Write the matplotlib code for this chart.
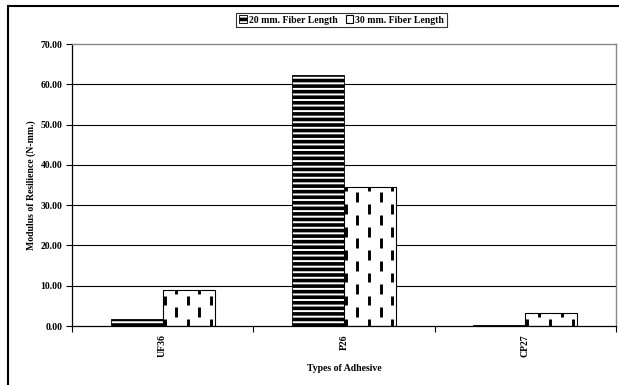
import numpy as np
import matplotlib
matplotlib.use("Agg")
import matplotlib.pyplot as plt
from matplotlib.patches import Rectangle
from matplotlib.collections import LineCollection

plt.rcParams['font.family'] = ['Liberation Serif', 'DejaVu Serif']
plt.rcParams['font.weight'] = 'bold'
plt.rcParams['hatch.linewidth'] = 2.6

adhesives = ['UF36', 'P26', 'CP27']
fiber_20mm = [1.7, 62.3, 0.3]
fiber_30mm = [8.9, 34.6, 3.3]
series_labels = ['20 mm. Fiber Length', '30 mm. Fiber Length']
y_ticks = [0, 10, 20, 30, 40, 50, 60, 70]

fig = plt.figure(figsize=(6.19, 3.85), dpi=100)
ax = fig.add_axes([72 / 619, 1 - 326 / 385, 544 / 619, 282 / 385])

# outer chart border (runs off the right and bottom edges)
fig.patches.append(Rectangle((8, -10), 640, 389, transform=None, fill=False,
                             edgecolor='black', linewidth=1.5))

x = np.arange(len(adhesives))
w = 0.287

ax.set_axisbelow(True)
for v in y_ticks[1:-1]:
    ax.axhline(v, color='black', linewidth=0.8, zorder=0)

b20 = ax.bar(x - w / 2, fiber_20mm, w, facecolor='white', edgecolor='black',
             hatch='---', linewidth=0.6, label=series_labels[0], zorder=2)
b30 = ax.bar(x + w / 2, fiber_30mm, w, facecolor='white', edgecolor='black',
             linewidth=0.8, label=series_labels[1], zorder=2)

# dashed "confetti" fill for the 30 mm bars
dx = 11.5 / 181.3
period = 5.7
dash = 2.4
for rect in b30:
    x0, x1 = rect.get_x(), rect.get_x() + rect.get_width()
    h = rect.get_height()
    segs = []
    cols = np.arange(x0 + 0.011, x1, dx)
    for i, cx in enumerate(cols):
        y = -0.6 + (period / 2 if i % 2 else 0)
        while y < h:
            segs.append([(cx, y), (cx, min(y + dash, h))])
            y += period
    lc = LineCollection(segs, colors='black', linewidths=2.1, zorder=3,
                        capstyle='butt')
    ax.add_collection(lc)
    lc.set_clip_path(rect)

ax.set_xlim(-0.5, 2.5)
ax.set_ylim(0, 70)
ax.set_yticks(y_ticks)
ax.set_yticklabels([f'{v:.2f}' for v in y_ticks], fontsize=7, fontweight='bold')
ax.set_xticks(x)
ax.set_xticklabels(adhesives, rotation=90, fontsize=7, fontweight='bold')
ax.set_xticks([-0.5, 0.5, 1.5, 2.5], minor=True)
ax.tick_params(axis='x', which='major', length=0, pad=6)
ax.tick_params(axis='x', which='minor', length=4, direction='out', width=0.8)
ax.tick_params(axis='y', length=4, direction='out', width=0.8, pad=3)

for side in ['top', 'right']:
    ax.spines[side].set_color('#888888')
    ax.spines[side].set_linewidth(1.0)
for side in ['left', 'bottom']:
    ax.spines[side].set_color('black')
    ax.spines[side].set_linewidth(0.9)

ax.set_ylabel('Modulus of Resilience (N-mm.)', fontsize=7, fontweight='bold',
              labelpad=3)
ax.set_xlabel('Types of Adhesive', fontsize=7, fontweight='bold', labelpad=5)

leg = fig.legend(handles=[b20, b30], loc='center',
                 bbox_to_anchor=(0.552, 0.948), ncol=2, fontsize=7,
                 frameon=True, fancybox=False, edgecolor='black',
                 handlelength=0.8, handleheight=0.8, handletextpad=0.2,
                 columnspacing=0.8, borderpad=0.3)
leg.get_frame().set_linewidth(0.8)

fig.savefig('out.png', dpi=100)
